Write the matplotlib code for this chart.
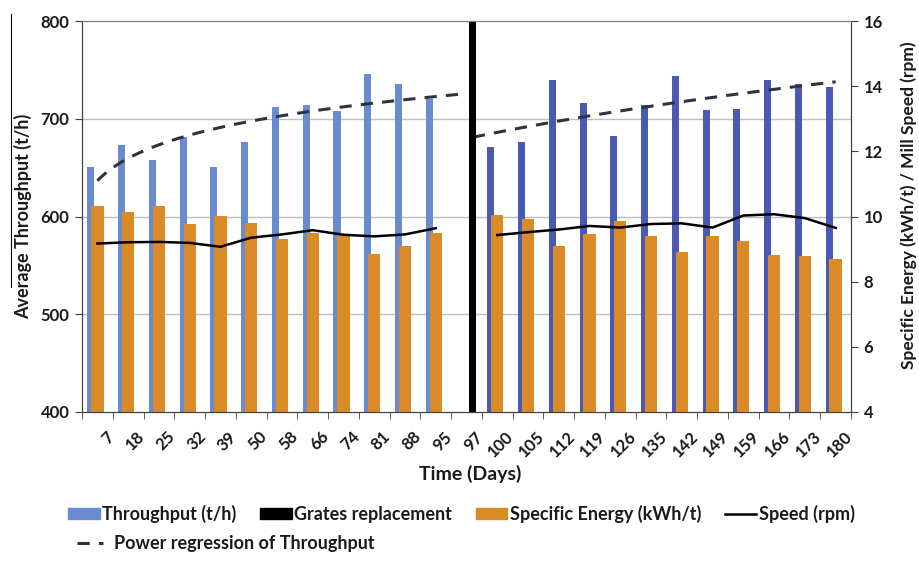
import numpy as np
import matplotlib
matplotlib.use("Agg")
import matplotlib.pyplot as plt
from matplotlib.patches import Patch
from matplotlib.lines import Line2D

plt.rcParams['font.family'] = ['Lato', 'DejaVu Sans']

# ---------------- data ----------------
days = ['7', '18', '25', '32', '39', '50', '58', '66', '74', '81', '88', '95', '97',
        '100', '105', '112', '119', '126', '135', '142', '149', '159', '166', '173', '180']
throughput_before = [651, 673, 658, 681, 651, 676, 712, 714, 708, 746, 736, 720]
throughput_after = [671, 676, 740, 716, 682, 714, 744, 709, 710, 740, 736, 732]
grates_replacement_day = '97'
grates_replacement_value = 800
specific_energy = [10.33, 10.13, 10.33, 9.77, 10.02, 9.81, 9.31, 9.48, 9.41, 8.85, 9.08, 9.48, np.nan,
                   10.06, 9.93, 9.10, 9.46, 9.86, 9.41, 8.92, 9.39, 9.24, 8.81, 8.79, 8.70]
speed = [9.17, 9.21, 9.22, 9.19, 9.07, 9.35, 9.45, 9.58, 9.44, 9.39, 9.45, 9.64, np.nan,
         9.43, 9.52, 9.60, 9.71, 9.66, 9.77, 9.79, 9.66, 10.03, 10.07, 9.95, 9.65]

# ---------------- styling ----------------
BLUE_L = '#6A8BCF'
BLUE_R = '#4A59B4'
ORANGE = '#DA8A26'
TXT = '#1A1A1A'
TREND = '#2E3340'

W, H = 919, 562
fig = plt.figure(figsize=(W / 100, H / 100), dpi=100)
ax = fig.add_axes([82 / W, 1 - 412 / H, (851 - 82) / W, (412 - 21) / H])
ax2 = ax.twinx()

n = len(days)
pos = np.arange(n)
idx_gr = days.index(grates_replacement_day)

bw = 0.23
off = 0.21
# throughput bars
ax.bar(pos[:len(throughput_before)] - off, np.array(throughput_before) - 400, bottom=400,
       width=bw, color=BLUE_L, zorder=2)
ax.bar(pos[idx_gr + 1:] - off, np.array(throughput_after) - 400, bottom=400,
       width=bw, color=BLUE_R, zorder=2)
# grates replacement
ax.bar([pos[idx_gr] + off], [grates_replacement_value - 400], bottom=400, width=bw,
       color='black', zorder=4)

# power regressions (fitted from the throughput data, x = category index)
xb = np.arange(1, len(throughput_before) + 1)
bb, lab = np.polyfit(np.log(xb), np.log(throughput_before), 1)
xs = np.linspace(1, idx_gr + 1, 200)
ax.plot(xs - 1, np.exp(lab) * xs ** bb, ls=(0, (4, 3)), color=TREND, lw=2.2, zorder=3)

xa = np.arange(idx_gr + 2, n + 1)
ba, laa = np.polyfit(np.log(xa), np.log(throughput_after), 1)
xs2 = np.linspace(idx_gr + 1 + off, n, 200)
ax.plot(xs2 - 1, np.exp(laa) * xs2 ** ba, ls=(0, (4, 3)), color=TREND, lw=2.2, zorder=3)

# secondary axis: specific energy bars + speed
se = np.array(specific_energy)
ax2.bar(pos, se - 4, bottom=4, width=0.40, color=ORANGE, zorder=2)
ax2.plot(pos, speed, color='black', lw=1.8, zorder=5)

# axes limits / ticks
ax.set_xlim(-0.5, n - 0.5)
ax.set_ylim(400, 800)
ax2.set_ylim(4, 16)
ax.set_yticks([400, 500, 600, 700, 800])
ax2.set_yticks([4, 6, 8, 10, 12, 14, 16])

ax.set_xticks(pos)
ax.set_xticklabels(days, rotation=45, ha='right', va='top', rotation_mode='anchor',
                   fontsize=12, fontweight='bold', color=TXT)
ax.tick_params(axis='x', which='major', length=0, pad=12)
ax.set_xticks(np.arange(n + 1) - 0.5, minor=True)
ax.tick_params(axis='x', which='minor', length=5, direction='out', color='#404040')
for lbl in ax.get_xticklabels():
    lbl.set_transform(lbl.get_transform() + matplotlib.transforms.ScaledTranslation(8 / 100, 0, fig.dpi_scale_trans))

ax.tick_params(axis='y', length=5, direction='out', color='#404040', labelsize=12, labelcolor=TXT, pad=4)
ax2.tick_params(axis='y', length=5, direction='out', color='#404040', labelsize=12, labelcolor=TXT, pad=4)
for lbl in ax.get_yticklabels() + ax2.get_yticklabels():
    lbl.set_fontweight('bold')

ax.set_axisbelow(True)
for y in [500, 600, 700]:
    ax.axhline(y, color='#BDBDBD', lw=1.0, zorder=0)

for a in (ax, ax2):
    a.spines['top'].set_color('#7F7F7F')
    a.spines['left'].set_color('#404040')
    a.spines['right'].set_color('#404040')
    a.spines['bottom'].set_color('#404040')

fig.text(23 / W, 1 - 216 / H, 'Average Throughput (t/h)', rotation=90, ha='center', va='center',
         fontsize=13, fontweight='bold', color=TXT)
fig.text(909 / W, 1 - 205 / H, 'Specific Energy (kWh/t) / Mill Speed (rpm)', rotation=90,
         ha='center', va='center', fontsize=12.5, fontweight='bold', color=TXT)
fig.text(470 / W, 1 - 474 / H, 'Time (Days)', ha='center', va='center', fontsize=14,
         fontweight='bold', color=TXT)

# legends
h1 = [Patch(color=BLUE_L), Patch(color='black'), Patch(color=ORANGE), Line2D([], [], color='black', lw=1.8)]
l1 = ['Throughput (t/h)', 'Grates replacement', 'Specific Energy (kWh/t)', 'Speed (rpm)']
leg1 = fig.legend(h1, l1, loc='center left', bbox_to_anchor=(68 / W, 1 - 514 / H), ncol=4,
                  frameon=False, handlelength=1.75, handleheight=0.6,
                  handletextpad=0.15, columnspacing=1.3, borderpad=0, borderaxespad=0,
                  prop={'weight': 'bold', 'size': 13})
for t in leg1.get_texts():
    t.set_color(TXT)
h2 = [Line2D([], [], color=TREND, lw=2.2, ls=(0, (4, 3)))]
leg2 = fig.legend(h2, ['Power regression of Throughput'], loc='center left',
                  bbox_to_anchor=(77 / W, 1 - 544 / H), frameon=False, handlelength=1.45,
                  handletextpad=0.6, borderpad=0, borderaxespad=0,
                  prop={'weight': 'bold', 'size': 13})
for t in leg2.get_texts():
    t.set_color(TXT)

# thin vertical line present at the left edge of the original image
fig.add_artist(Line2D([11 / W, 11 / W], [1 - 14 / H, 1 - 287 / H], color='black', lw=0.8,
                      transform=fig.transFigure))

fig.savefig('out.png', dpi=100)
